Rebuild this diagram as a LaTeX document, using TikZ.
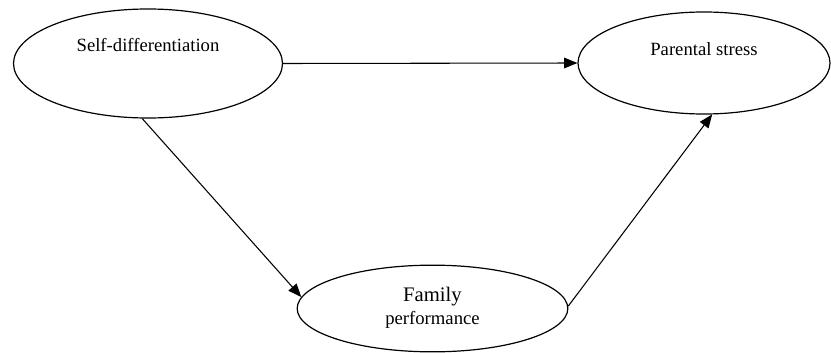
\documentclass[tikz,border=0pt]{standalone}
\usepackage{fontspec}
\setmainfont{Liberation Serif}
\usetikzlibrary{shapes.geometric,arrows.meta}
\newlength{\pxunit}
\setlength{\pxunit}{0.75pt}
\begin{document}
\begin{tikzpicture}[x=\pxunit,y=-\pxunit]
  \tikzstyle{varnode}=[
       draw,
       ellipse,
       line width=0.9pt,
       inner sep=0pt,
       align=center]
  \tikzstyle{path}=[
       -{Triangle[length=10pt,width=8pt]},
       line width=0.8pt]
  \useasboundingbox (0,0) rectangle (831,353);
  % the three variables
  \node[varnode, minimum width=201.75pt, minimum height=81.75pt,
        label={[font=\fontsize{14}{16}\selectfont, yshift=13.5pt]center:Self-differentiation}]
        (selfdiff) at (148,63.5) {};
  \node[varnode, minimum width=189pt, minimum height=76.5pt,
        label={[font=\fontsize{14}{16}\selectfont, yshift=10.5pt]center:Parental stress}]
        (parstress) at (704,63) {};
  \node[varnode, minimum width=203pt, minimum height=65pt,
        font=\fontsize{14}{17}\selectfont,
        text depth=4pt]
        (famperf) at (432.5,308.5) {{\fontsize{15.5}{17}\selectfont Family}\\performance};
  % paths
  \draw[path] (selfdiff.264) -- (famperf.175);
  \draw[path] (selfdiff.east) -- (parstress.west);
  \draw[path] (famperf.1) -- (parstress.279);
\end{tikzpicture}
\end{document}
